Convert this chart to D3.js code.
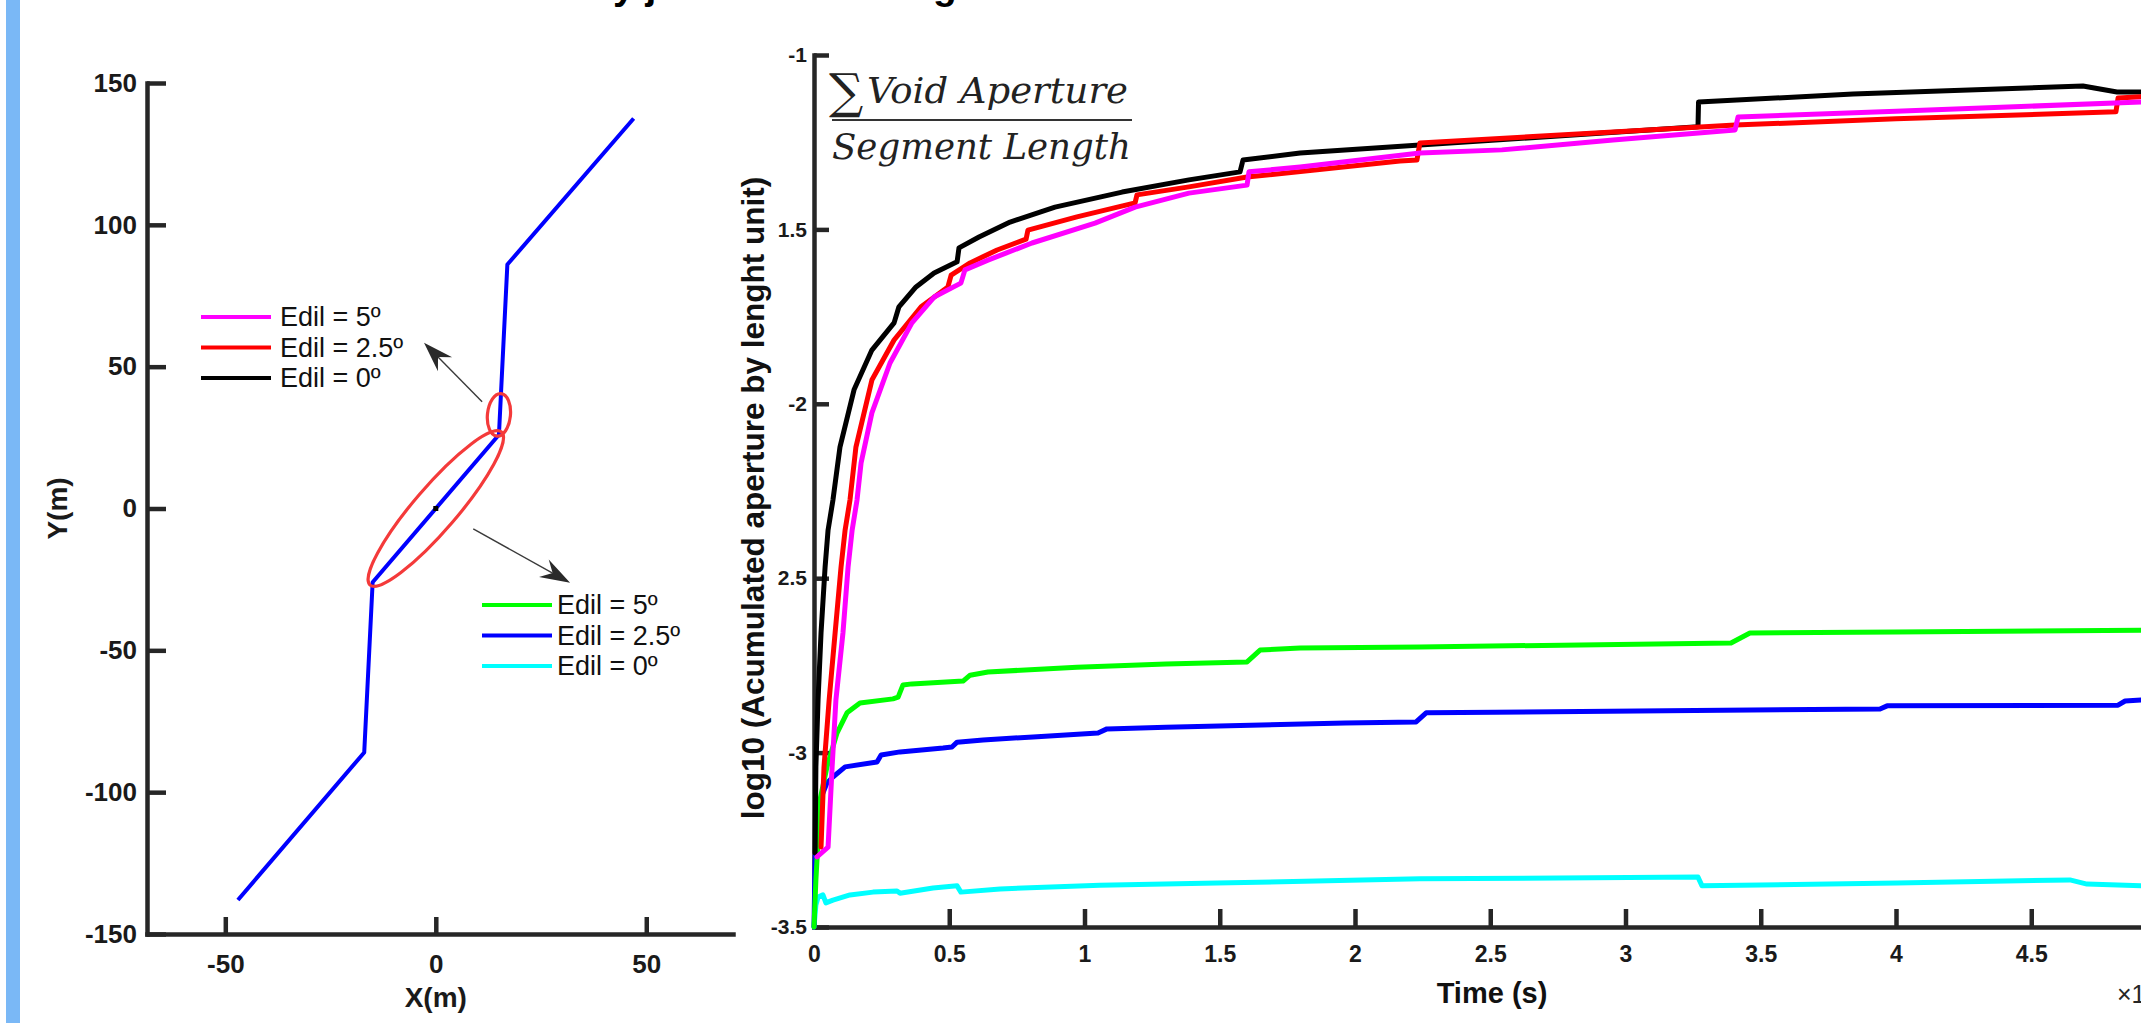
<!DOCTYPE html>
<meta charset="utf-8">
<title>Void aperture by joint dilation angle</title>
<script src="https://d3js.org/d3.v7.min.js"></script>
<style>
  body { margin: 0; background: #fff; }
  svg { display: block; }
</style>
<div id="chart"></div>
<script>
  // ---------- data ----------
  // left panel: joint trace, X(m) / Y(m)
  const traceX = [47, 17, 15, -15, -17, -47];
  const traceY = [137.5, 86, 26, -26, -86, -138];
  const leftXTicks = [-50, 0, 50];
  const leftYTicks = [150, 100, 50, 0, -50, -100, -150];

  // zoomed zones (red ellipses): major axis end points in metres
  const zoneEnds = [[[15.5, 40.5], [14.5, 25.5]], [[15.6, 27], [-15.6, -27]]];
  // arrows: [tailX, tailY, tipX, tipY] in metres
  const arrows = [[11, 37.6, -2.8, 58.4], [8.9, -7.2, 31.9, -26.2]];

  // right panel: time (x10^4 s) and log10 of accumulated aperture
  const tBlack = [0.004, 0.007, 0.015, 0.026, 0.041, 0.052, 0.070, 0.096, 0.148, 0.214, 0.296, 0.314, 0.377, 0.444, 0.529, 0.536, 0.610, 0.725, 0.891, 1.139, 1.386, 1.575, 1.586, 1.797, 2.240, 3.268, 3.270, 3.841, 4.691, 4.817, 4.906];
  const vBlack = [-3.288, -3.041, -2.849, -2.657, -2.468, -2.362, -2.276, -2.124, -1.960, -1.846, -1.768, -1.722, -1.665, -1.625, -1.593, -1.553, -1.522, -1.479, -1.436, -1.393, -1.358, -1.335, -1.301, -1.281, -1.258, -1.206, -1.135, -1.112, -1.089, -1.106, -1.106];

  const tRed = [0.026, 0.037, 0.056, 0.078, 0.100, 0.115, 0.133, 0.155, 0.214, 0.296, 0.396, 0.495, 0.507, 0.577, 0.677, 0.784, 0.791, 0.972, 1.187, 1.194, 1.386, 1.601, 2.166, 2.229, 2.240, 2.954, 3.405, 4.000, 4.813, 4.821, 4.906];
  const vRed = [-3.271, -3.041, -2.849, -2.657, -2.468, -2.362, -2.276, -2.124, -1.932, -1.817, -1.722, -1.665, -1.631, -1.596, -1.559, -1.528, -1.502, -1.464, -1.424, -1.401, -1.378, -1.350, -1.304, -1.301, -1.252, -1.221, -1.201, -1.183, -1.163, -1.123, -1.120];

  const tMagenta = [0.011, 0.052, 0.067, 0.081, 0.107, 0.126, 0.141, 0.159, 0.174, 0.214, 0.281, 0.362, 0.444, 0.543, 0.558, 0.643, 0.806, 1.039, 1.187, 1.386, 1.601, 1.608, 1.797, 2.240, 2.543, 2.954, 3.405, 3.416, 4.000, 4.906];
  const vMagenta = [-3.299, -3.271, -3.041, -2.849, -2.657, -2.468, -2.362, -2.276, -2.170, -2.026, -1.883, -1.768, -1.694, -1.654, -1.616, -1.588, -1.539, -1.482, -1.436, -1.396, -1.373, -1.335, -1.321, -1.281, -1.272, -1.244, -1.215, -1.178, -1.161, -1.135];

  const tGreen = [0, 0.007, 0.015, 0.022, 0.048, 0.085, 0.122, 0.170, 0.292, 0.311, 0.329, 0.362, 0.551, 0.577, 0.643, 0.972, 1.301, 1.601, 1.649, 1.797, 2.240, 3.390, 3.460, 4.000, 4.906];
  const vGreen = [-3.5, -3.365, -3.251, -3.136, -3.041, -2.944, -2.886, -2.858, -2.846, -2.841, -2.806, -2.803, -2.795, -2.778, -2.769, -2.755, -2.746, -2.740, -2.706, -2.700, -2.697, -2.686, -2.657, -2.654, -2.649];

  const tBlue = [0, 0.004, 0.011, 0.030, 0.048, 0.070, 0.115, 0.233, 0.248, 0.318, 0.477, 0.510, 0.529, 0.625, 0.810, 1.050, 1.083, 1.301, 1.963, 2.226, 2.263, 2.518, 3.941, 3.967, 4.821, 4.847, 4.906];
  const vBlue = [-3.5, -3.308, -3.193, -3.122, -3.087, -3.070, -3.041, -3.027, -3.007, -2.998, -2.987, -2.984, -2.970, -2.964, -2.955, -2.944, -2.932, -2.927, -2.915, -2.912, -2.886, -2.884, -2.875, -2.866, -2.864, -2.852, -2.849];

  const tCyan = [0, 0.007, 0.015, 0.033, 0.044, 0.070, 0.133, 0.218, 0.307, 0.318, 0.440, 0.529, 0.543, 0.688, 1.057, 1.490, 2.240, 3.268, 3.283, 4.004, 4.643, 4.706, 4.906];
  const vCyan = [-3.5, -3.437, -3.414, -3.408, -3.431, -3.423, -3.408, -3.400, -3.397, -3.403, -3.388, -3.382, -3.400, -3.391, -3.380, -3.374, -3.362, -3.357, -3.382, -3.374, -3.365, -3.377, -3.382];

  const rightXTicks = [0, 0.5, 1, 1.5, 2, 2.5, 3, 3.5, 4, 4.5];
  const rightYTicks = [-1, -1.5, -2, -2.5, -3, -3.5];
  const rightYTickLabels = ["-1", "1.5", "-2", "2.5", "-3", "-3.5"];

  const upperLegend = ["Edil = 5º", "Edil = 2.5º", "Edil = 0º"];
  const upperColors = ["#ff00ff", "#ff0000", "#000000"];
  const lowerLegend = ["Edil = 5º", "Edil = 2.5º", "Edil = 0º"];
  const lowerColors = ["#00ff00", "#0000ff", "#00ffff"];

  // ---------- setup ----------
  const W = 2141, H = 1023;
  const axisColor = "#262626";
  const sans = "'Liberation Sans', Arial, sans-serif";

  const svg = d3.select("#chart")
    .append("svg")
    .attr("width", W)
    .attr("height", H);

  // light blue strip at the left edge
  svg.append("rect")
    .attr("x", 6).attr("y", 0)
    .attr("width", 14).attr("height", H)
    .attr("fill", "#7ab8f6");

  // cut-off title (only descenders show)
  const titleText = "Void evolution by joint dilation angle";
  const title = svg.append("text")
    .attr("x", 0).attr("y", -1)
    .style("font-family", sans)
    .style("font-weight", "bold")
    .style("font-size", "32px")
    .attr("fill", "#000")
    .text(titleText);
  {
    const node = title.node();
    const iy = titleText.indexOf("by ") + 1, ig = titleText.lastIndexOf("g");
    const gap = node.getStartPositionOfChar(ig).x - node.getStartPositionOfChar(iy).x;
    const fs = Math.max(28, Math.min(40, 32 * 320 / gap));
    title.style("font-size", fs + "px");
    const x0 = node.getStartPositionOfChar(iy).x;
    title.attr("x", 613 - x0);
  }

  function styleAxis(g, fs) {
    g.select(".domain")
      .attr("stroke", axisColor)
      .attr("stroke-width", 4.5)
      .attr("stroke-linecap", "square");
    g.selectAll(".tick line")
      .attr("stroke", axisColor)
      .attr("stroke-width", 4.5);
    g.selectAll(".tick text")
      .attr("fill", "#1a1a1a")
      .style("font-family", sans)
      .style("font-weight", "bold")
      .style("font-size", fs + "px");
  }

  const plain = d => String(d);

  // ---------- left panel ----------
  const xL = d3.scaleLinear().domain([-68.6, 70.6]).range([147, 733]);
  const yL = d3.scaleLinear().domain([-150, 150]).range([934, 83]);

  svg.append("g")
    .attr("transform", `translate(0,${yL(-150)})`)
    .call(d3.axisBottom(xL).tickValues(leftXTicks).tickFormat(plain)
      .tickSizeInner(-17).tickSizeOuter(0).tickPadding(21))
    .call(g => styleAxis(g, 26));

  svg.append("g")
    .attr("transform", `translate(${xL(-68.6)},0)`)
    .call(d3.axisLeft(yL).tickValues(leftYTicks).tickFormat(plain)
      .tickSizeInner(-19).tickSizeOuter(0).tickPadding(10))
    .call(g => styleAxis(g, 26));

  svg.append("text")
    .attr("x", xL(0)).attr("y", 1007)
    .attr("text-anchor", "middle")
    .style("font-family", sans).style("font-weight", "bold").style("font-size", "28px")
    .attr("fill", "#1a1a1a")
    .text("X(m)");

  svg.append("text")
    .attr("transform", `translate(67,${yL(0)}) rotate(-90)`)
    .attr("text-anchor", "middle")
    .style("font-family", sans).style("font-weight", "bold").style("font-size", "28px")
    .attr("fill", "#1a1a1a")
    .text("Y(m)");

  // joint trace
  svg.append("path")
    .datum(traceX.map((x, i) => [x, traceY[i]]))
    .attr("fill", "none")
    .attr("stroke", "#0000ff")
    .attr("stroke-width", 4)
    .attr("stroke-linejoin", "round")
    .attr("d", d3.line().x(d => xL(d[0])).y(d => yL(d[1])));

  // small black marker at the origin
  svg.append("rect")
    .attr("x", xL(0) - 2.5).attr("y", yL(0) - 2.5)
    .attr("width", 5).attr("height", 5)
    .attr("fill", "#000");

  // red ellipses
  const halfWidths = [11.5, 21.6];
  zoneEnds.forEach((e, i) => {
    const x1 = xL(e[0][0]), y1 = yL(e[0][1]), x2 = xL(e[1][0]), y2 = yL(e[1][1]);
    const cx = (x1 + x2) / 2, cy = (y1 + y2) / 2;
    const a = Math.hypot(x2 - x1, y2 - y1) / 2;
    const ang = Math.atan2(y2 - y1, x2 - x1) * 180 / Math.PI;
    svg.append("ellipse")
      .attr("transform", `translate(${cx},${cy}) rotate(${ang})`)
      .attr("rx", a).attr("ry", halfWidths[i])
      .attr("fill", "none")
      .attr("stroke", "#f43a3a")
      .attr("stroke-width", 3.2);
  });

  // arrows
  arrows.forEach(a => {
    const x1 = xL(a[0]), y1 = yL(a[1]), x2 = xL(a[2]), y2 = yL(a[3]);
    const len = Math.hypot(x2 - x1, y2 - y1);
    const ux = (x2 - x1) / len, uy = (y2 - y1) / len;
    const px = -uy, py = ux;
    const L = 30, hw = 10, notch = 20;
    const bx = x2 - ux * L, by = y2 - uy * L;
    const nx = x2 - ux * notch, ny = y2 - uy * notch;
    svg.append("line")
      .attr("x1", x1).attr("y1", y1).attr("x2", nx).attr("y2", ny)
      .attr("stroke", "#3a3a3a").attr("stroke-width", 1.4);
    svg.append("path")
      .attr("d", `M${x2},${y2}L${bx + px * hw},${by + py * hw}L${nx},${ny}L${bx - px * hw},${by - py * hw}Z`)
      .attr("fill", "#2a2a2a");
  });

  // legends
  function legend(labels, colors, lx, tx, y0) {
    labels.forEach((lab, i) => {
      const y = y0 + i * 30.5;
      svg.append("line")
        .attr("x1", lx).attr("x2", lx + 70)
        .attr("y1", y).attr("y2", y)
        .attr("stroke", colors[i]).attr("stroke-width", 4);
      svg.append("text")
        .attr("x", tx).attr("y", y + 9)
        .style("font-family", sans).style("font-size", "27px")
        .attr("fill", "#111")
        .text(lab);
    });
  }
  legend(upperLegend, upperColors, 201, 280, 317);
  legend(lowerLegend, lowerColors, 482, 557, 605);

  // ---------- right panel ----------
  const xR = d3.scaleLinear().domain([0, 5]).range([814, 2166.5]);
  const yR = d3.scaleLinear().domain([-3.5, -1]).range([927, 55]);

  svg.append("g")
    .attr("transform", `translate(0,${yR(-3.5)})`)
    .call(d3.axisBottom(xR).tickValues(rightXTicks).tickFormat(plain)
      .tickSizeInner(-18).tickSizeOuter(0).tickPadding(19))
    .call(g => styleAxis(g, 23));

  svg.append("g")
    .attr("transform", `translate(${xR(0)},0)`)
    .call(d3.axisLeft(yR).tickValues(rightYTicks).tickSizeInner(-15).tickSizeOuter(0).tickPadding(7)
      .tickFormat((d, i) => rightYTickLabels[i]))
    .call(g => styleAxis(g, 21));

  svg.append("text")
    .attr("x", 1492).attr("y", 1003)
    .attr("text-anchor", "middle")
    .style("font-family", sans).style("font-weight", "bold").style("font-size", "29px")
    .attr("fill", "#111")
    .text("Time (s)");

  svg.append("text")
    .attr("x", 2117).attr("y", 1003)
    .style("font-family", sans).style("font-size", "25px")
    .attr("fill", "#262626")
    .text("×10");

  svg.append("text")
    .attr("transform", `translate(764,498) rotate(-90)`)
    .attr("text-anchor", "middle")
    .style("font-family", sans).style("font-weight", "bold").style("font-size", "31.5px")
    .attr("fill", "#111")
    .text("log10 (Acumulated aperture by lenght unit)");

  // fraction annotation
  const serif = "'DejaVu Serif', 'Liberation Serif', serif";
  svg.append("text")
    .attr("x", 829).attr("y", 108)
    .style("font-family", serif).style("font-size", "48px")
    .attr("fill", "#222")
    .text("∑");
  svg.append("text")
    .attr("x", 867).attr("y", 103)
    .attr("textLength", 261).attr("lengthAdjust", "spacingAndGlyphs")
    .style("font-family", serif).style("font-style", "italic").style("font-size", "35px")
    .attr("fill", "#222")
    .text("Void Aperture");
  svg.append("line")
    .attr("x1", 832).attr("x2", 1132).attr("y1", 120).attr("y2", 120)
    .attr("stroke", "#333").attr("stroke-width", 1.8);
  svg.append("text")
    .attr("x", 832).attr("y", 159)
    .attr("textLength", 299).attr("lengthAdjust", "spacingAndGlyphs")
    .style("font-family", serif).style("font-style", "italic").style("font-size", "35px")
    .attr("fill", "#222")
    .text("Segment Length");

  // series
  const series = [
    { t: tCyan, v: vCyan, color: "#00ffff" },
    { t: tBlue, v: vBlue, color: "#0000ff" },
    { t: tGreen, v: vGreen, color: "#00ff00" },
    { t: tBlack, v: vBlack, color: "#000000" },
    { t: tRed, v: vRed, color: "#ff0000" },
    { t: tMagenta, v: vMagenta, color: "#ff00ff" }
  ];

  const lineR = d3.line().x(d => xR(d[0])).y(d => yR(d[1]));

  svg.selectAll(".series")
    .data(series)
    .join("path")
    .attr("class", "series")
    .attr("fill", "none")
    .attr("stroke", d => d.color)
    .attr("stroke-width", 5)
    .attr("stroke-linejoin", "round")
    .attr("stroke-linecap", "round")
    .attr("d", d => lineR(d.t.map((t, i) => [t, d.v[i]])));
</script>
